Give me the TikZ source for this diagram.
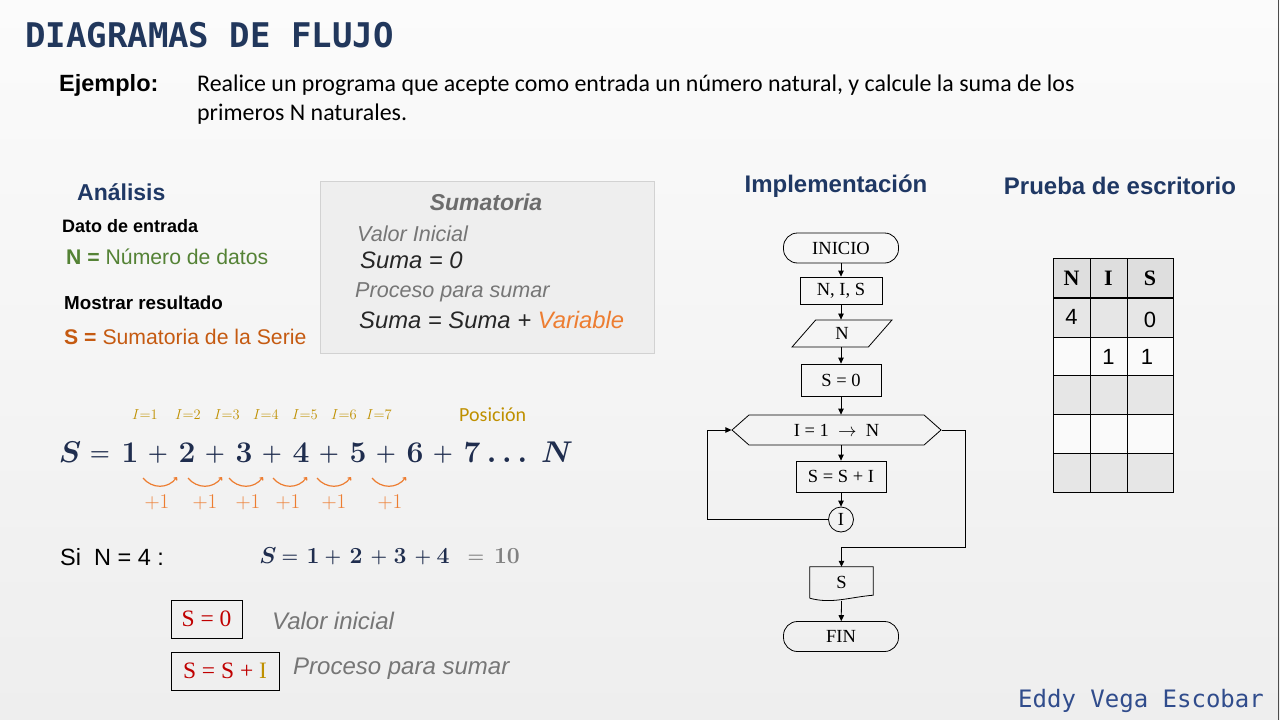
\RequirePackage{fix-cm}
\documentclass[tikz,border=0pt]{standalone}
\usepackage{fontspec}
\setmainfont{Liberation Sans}
\setmonofont{DejaVu Sans Mono}
\newfontfamily\calib{Carlito}
\newfontfamily\tms{Liberation Serif}
\usetikzlibrary{arrows.meta, positioning, shapes.geometric, shapes.symbols}

\definecolor{bgtop}{RGB}{251,251,251}
\definecolor{bgbot}{RGB}{238,238,238}
\definecolor{ttlblue}{RGB}{33,55,92}
\definecolor{hdblue}{RGB}{31,56,100}
\definecolor{autblue}{RGB}{48,76,140}
\definecolor{ngreen}{RGB}{84,130,53}
\definecolor{sbrown}{RGB}{197,90,17}
\definecolor{varor}{RGB}{237,125,49}
\definecolor{igold}{RGB}{191,144,0}
\definecolor{eqnavy}{RGB}{31,45,78}
\definecolor{sred}{RGB}{192,0,0}
\definecolor{txgray}{RGB}{118,118,118}
\definecolor{boxfill}{RGB}{238,238,238}
\definecolor{boxline}{RGB}{210,210,210}
\definecolor{hdrfill}{RGB}{222,222,222}
\definecolor{rowg}{RGB}{230,230,230}
\definecolor{roww}{RGB}{250,250,250}

\newcommand{\fsz}[1]{\fontsize{#1}{#1}\selectfont}

\begin{document}
\begin{tikzpicture}[x=1pt, y=-1pt,
      txt/.style={anchor=west, inner sep=0pt},
      head/.style={inner sep=0pt, font=\bfseries\fsz{24}, text=hdblue},
      fc/.style={draw, line width=0.8pt, font=\tms\fsz{18.5}, inner sep=1pt},
      term/.style={fc, rounded corners=14pt, minimum width=115pt, minimum height=30pt},
      proc/.style={fc, minimum height=28pt},
      inpt/.style={fc, trapezium, trapezium left angle=64, trapezium right angle=116,
                   trapezium stretches=true, minimum width=100pt, minimum height=27pt},
      loopb/.style={fc, signal, signal to=west and east, signal pointer angle=83,
                    minimum width=209pt, minimum height=30pt},
      conn/.style={fc, circle, minimum size=25pt, inner sep=0pt},
      arr/.style={-{Triangle[length=6pt,width=5.5pt]}, line width=0.8pt},
      cell/.style={draw, line width=1pt, minimum height=39pt, inner sep=0pt},
      eqg/.style={anchor=base, inner sep=0pt, font=\fsz{30}\boldmath, text=eqnavy},
      eqop/.style={anchor=base, inner sep=0pt, font=\fsz{23}\boldmath, text=eqnavy},
      eqs/.style={anchor=base, inner sep=0pt, font=\fsz{23}\boldmath, text=eqnavy},
      eqsop/.style={anchor=base, inner sep=0pt, font=\fsz{19}\boldmath, text=eqnavy},
      ilbl/.style={inner sep=0pt, font=\fsz{14.5}, text=igold},
      hop/.style={draw=varor, line width=1.2pt, -{Straight Barb[length=2pt,width=4pt]}},
      plus/.style={inner sep=0pt, font=\fsz{21}, text=varor},
      ex/.style={draw, line width=0.8pt, font=\tms\fsz{23.5}, text=sred, minimum height=38pt}]

    \useasboundingbox (0,0) rectangle (1280,720);
    \shade[top color=bgtop, bottom color=bgbot] (0,0) rectangle (1280,720);
    \draw[gray!60!black, line width=1.5pt] (1278.5,0) -- (1278.5,720);

    % ---- Title and statement ----
    \node[txt, font=\ttfamily\bfseries\fsz{34}, text=ttlblue] (title) at (25,35) {DIAGRAMAS DE FLUJO};
    \node[txt, font=\bfseries\fsz{23.5}] (ejem) at (59,85) {Ejemplo:};
    \node[anchor=north west, inner sep=0pt, align=left, font=\calib\fontsize{23.9}{28.5}\selectfont] (stmt) at (197,75)
        {Realice un programa que acepte como entrada un número natural, y calcule la suma de los\\
         primeros N naturales.};

    % ---- Analisis ----
    \node[txt, font=\bfseries\fsz{23}, text=hdblue] (anal) at (77,192) {Análisis};
    \node[txt, font=\bfseries\fsz{18}] (dato) at (62,226) {Dato de entrada};
    \node[txt, font=\fsz{21.2}, text=ngreen] (ndef) at (66,257) {\textbf{N =} Número de datos};
    \node[txt, font=\bfseries\fsz{18.8}] (most) at (64,303) {Mostrar resultado};
    \node[txt, font=\fsz{21.2}, text=sbrown] (sdef) at (64,337) {\textbf{S =} Sumatoria de la Serie};

    % ---- Sumatoria box ----
    \node[draw=boxline, fill=boxfill, line width=1pt, minimum width=334pt, minimum height=172pt,
          inner sep=0pt] (sbox) at (487,267) {};
    \node[font=\bfseries\itshape\fsz{23}, text=gray!85!black, inner sep=0pt] (stit) at (486,202) {Sumatoria};
    \node[txt, font=\itshape\fsz{21.6}, text=txgray] (vini) at (357,234) {Valor Inicial};
    \node[txt, font=\itshape\fsz{23.8}, text=black!85] (suma0) at (360,260) {Suma = 0};
    \node[txt, font=\itshape\fsz{21.6}, text=txgray] (pps) at (355,292) {Proceso para sumar};
    \node[txt, font=\itshape\fsz{23.8}, text=black!85] (sumav) at (359,320)
        {Suma = Suma + \textcolor{varor}{Variable}};

    % ---- Series ----
    \foreach \px/\k in {145/1, 188/2, 227/3, 266/4, 305/5, 344/6, 379/7}
      \node[ilbl] (i\k) at (\px,415) {$I{=}\k$};
    \node[txt, font=\calib\fsz{20}, text=igold] (posi) at (459,415) {Posición};

    \foreach \px/\g [count=\n] in {70/S, 130/1, 187/2, 244/3, 301/4, 358/5, 415/6, 472/7, 507/\dots, 557/N}
      \node[eqg] (g\n) at (\px,462) {$\g$};
    \foreach \px/\g [count=\n] in {100/=, 158/+, 215/+, 272/+, 329/+, 386/+, 443/+}
      \node[eqop] (o\n) at (\px,460.5) {$\g$};

    \foreach \px in {160, 205, 246, 290, 334, 389}
      \draw[hop] (\px-17,478) .. controls (\px-8,489) and (\px+8,489) .. (\px+17,477);
    \foreach \px [count=\n] in {157, 205, 248, 288, 334, 390}
      \node[plus] (p\n) at (\px,502) {$+1$};

    % ---- Example N = 4 ----
    \node[txt, font=\fsz{23.5}] (sin) at (60,557) {Si\ \ N = 4 :};
    \foreach \px/\g [count=\n] in {268/S, 313/1, 356/2, 400/3, 443/4}
      \node[eqs] (e\n) at (\px,563) {$\g$};
    \foreach \px/\g [count=\n] in {290/=, 333/+, 379/+, 423/+}
      \node[eqsop] (f\n) at (\px,562) {$\g$};
    \node[eqsop, text=gray] (eq10) at (476,562) {$=$};
    \node[eqs, text=gray] (e10) at (507,563) {$10$};

    \node[ex, minimum width=71pt] (bx0) at (206.5,619) {S = 0};
    \node[txt, font=\itshape\fsz{24}, text=txgray] (vinl) at (272,621) {Valor inicial};
    \node[ex, minimum width=108pt] (bx1) at (225,671) {S = S + \textcolor{igold}{I}};
    \node[txt, font=\itshape\fsz{24}, text=txgray] (ppsl) at (293,669) {Proceso para sumar};

    % ---- Implementacion: flowchart ----
    \node[head] (himp) at (836,186) {Implementación};
    \node[term] (ini) at (841,248) {INICIO};
    \node[proc, minimum width=82pt, minimum height=27pt] (dcl) at (841,290.5) {N, I, S};
    \node[inpt] (inN) at (842,333.5) {N};
    \node[proc, minimum width=80pt, minimum height=32pt] (s0) at (841,380) {S = 0};
    \node[loopb] (lp) at (836.5,430) {I = 1\ \ $\rightarrow$\ \ N};
    \node[proc, minimum width=90pt, minimum height=31pt] (ssi) at (841,476.5) {S = S + I};
    \node[conn] (ci) at (841,519.5) {I};
    \node[minimum width=63pt, minimum height=31pt, inner sep=0pt, font=\tms\fsz{18.5}] (sout) at (841.5,582.5) {S};
    \draw[line width=0.8pt] (sout.south west) -- (sout.north west) -- (sout.north east)
        -- ([yshift=3pt]sout.south east) .. controls ([xshift=-24pt,yshift=1pt]sout.south east)
        and ([xshift=22pt,yshift=-6pt]sout.south west) .. (sout.south west);
    \node[term] (fin) at (841,636.5) {FIN};

    \coordinate (lpl) at (707,519.5);
    \coordinate (lpr) at (965,547);
    \draw[arr] (ini) -- (dcl);
    \draw[arr] (dcl) -- (inN.north -| dcl);
    \draw[arr] (inN.south -| dcl) -- (s0);
    \draw[arr] (s0) -- (lp.north -| s0);
    \draw[arr] (lp.south -| ssi) -- (ssi);
    \draw[arr] (ssi) -- (ci);
    \draw[arr] (ci.west) -- (lpl) |- (lp.west);
    \draw[arr] (lp.east) -| (lpr) -| (sout.north);
    \draw[arr] ([yshift=-3pt]sout.south) -- (fin);

    % ---- Prueba de escritorio ----
    \node[head] (hpru) at (1120,186) {Prueba de escritorio};
    \foreach \r/\y/\fc in {0/278/hdrfill, 1/317.5/rowg, 2/356.5/roww, 3/395/rowg, 4/433.5/roww, 5/472.5/rowg}
      \foreach \c/\x/\w in {0/1071.5/37, 1/1108.5/37, 2/1150/46}
        \node[cell, fill=\fc, minimum width=\w pt] (t\r\c) at (\x,\y) {};
    \node[font=\tms\bfseries\fsz{22}] (hN) at (t00) {N};
    \node[font=\tms\bfseries\fsz{22}] (hI) at (t01) {I};
    \node[font=\tms\bfseries\fsz{22}] (hS) at (t02) {S};
    \node[font=\fsz{22}] (v10) at ([yshift=1pt]t10) {4};
    \node[font=\fsz{22}] (v12) at ([yshift=-2pt]t12) {0};
    \node[font=\fsz{22}] (v21) at (t21) {1};
    \node[font=\fsz{22}] (v22) at ([xshift=-3pt]t22) {1};

    % ---- Author ----
    \node[txt, font=\ttfamily\fsz{24}, text=autblue] (auth) at (1018,701) {Eddy Vega Escobar};

\end{tikzpicture}
\end{document}
